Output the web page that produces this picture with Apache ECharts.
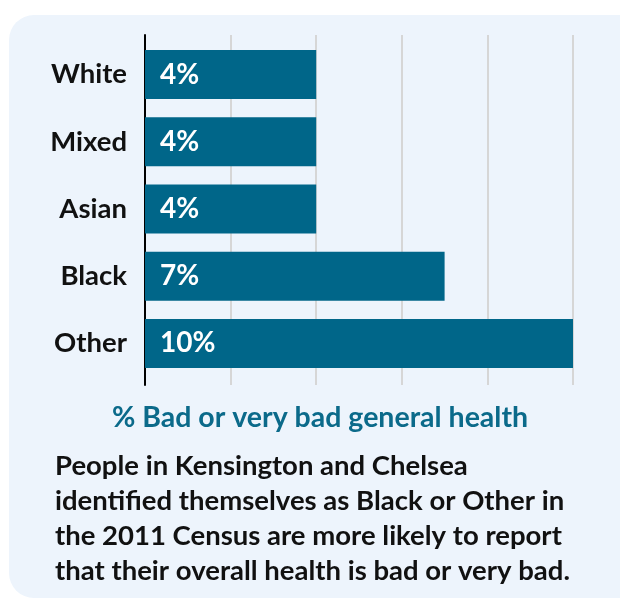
<!DOCTYPE html>
<html>
<head>
<meta charset="utf-8">
<script src="https://cdn.jsdelivr.net/npm/echarts@6/dist/echarts.min.js"></script>
<style>
  html, body { margin: 0; padding: 0; background: #fff; }
  #main { width: 620px; height: 600px; }
</style>
</head>
<body>
<div id="main"></div>
<script>
// data
var categories = ['White', 'Mixed', 'Asian', 'Black', 'Other'];
var badHealth = [4, 4, 4, 7, 10];
var xTicks = [0, 2, 4, 6, 8, 10];
var axisTitle = '% Bad or very bad general health';
var noteLines = [
  'People in Kensington and Chelsea',
  'identified themselves as Black or Other in',
  'the 2011 Census are more likely to report',
  'that their overall health is bad or very bad.'
];

var FONT = 'Lato, "Noto Sans", sans-serif';
var chart = echarts.init(document.getElementById('main'), null, { renderer: 'canvas' });

// panel + texts under the chart
var graphics = [{
  type: 'rect',
  z: -10,
  shape: { x: 9, y: 15, width: 640, height: 583, r: 25 },
  style: { fill: '#edf4fc' }
}, {
  type: 'text',
  x: 320,
  y: 418,
  style: {
    text: axisTitle, fill: '#0b6a8a', font: 'bold 28.5px ' + FONT,
    align: 'center', verticalAlign: 'middle'
  }
}];
noteLines.forEach(function (t, i) {
  graphics.push({
    type: 'text',
    x: 55,
    y: 466 + i * 35,
    style: { text: t, fill: '#111', font: 'bold 27.5px ' + FONT, verticalAlign: 'middle' }
  });
});

var option = {
  backgroundColor: '#fff',
  graphic: graphics,
  grid: [
    // grid lines only (a bit taller than the bar area)
    { left: 145, right: 47, top: 35, bottom: 215 },
    // bars
    { left: 145, right: 47, top: 41, bottom: 223 }
  ],
  xAxis: [{
    gridIndex: 0,
    type: 'value',
    min: xTicks[0],
    max: xTicks[xTicks.length - 1],
    interval: 2,
    axisLabel: { show: false },
    axisLine: { show: false },
    axisTick: { show: false },
    splitLine: { lineStyle: { color: '#d6d6d6', width: 2 } }
  }, {
    gridIndex: 1,
    type: 'value',
    min: xTicks[0],
    max: xTicks[xTicks.length - 1],
    show: false,
    splitLine: { show: false }
  }],
  yAxis: [{
    gridIndex: 0,
    type: 'category',
    data: categories,
    inverse: true,
    axisLabel: { show: false },
    axisTick: { show: false },
    axisLine: { show: true, lineStyle: { color: '#000', width: 2 } }
  }, {
    gridIndex: 1,
    type: 'category',
    data: categories,
    inverse: true,
    axisLine: { show: false },
    axisTick: { show: false },
    axisLabel: {
      color: '#111',
      fontFamily: FONT,
      fontWeight: 'bold',
      fontSize: 27.5,
      margin: 18,
      padding: [8, 0, 0, 0]
    }
  }],
  series: [{
    type: 'bar',
    xAxisIndex: 1,
    yAxisIndex: 1,
    data: badHealth,
    barWidth: 49,
    itemStyle: { color: '#006689' },
    label: {
      show: true,
      position: 'insideLeft',
      distance: 15,
      formatter: '{c}%',
      color: '#fff',
      fontFamily: FONT,
      fontWeight: 'bold',
      fontSize: 28,
      padding: [6, 0, 0, 0]
    },
    z: 3
  }]
};

chart.setOption(option);
</script>
</body>
</html>
